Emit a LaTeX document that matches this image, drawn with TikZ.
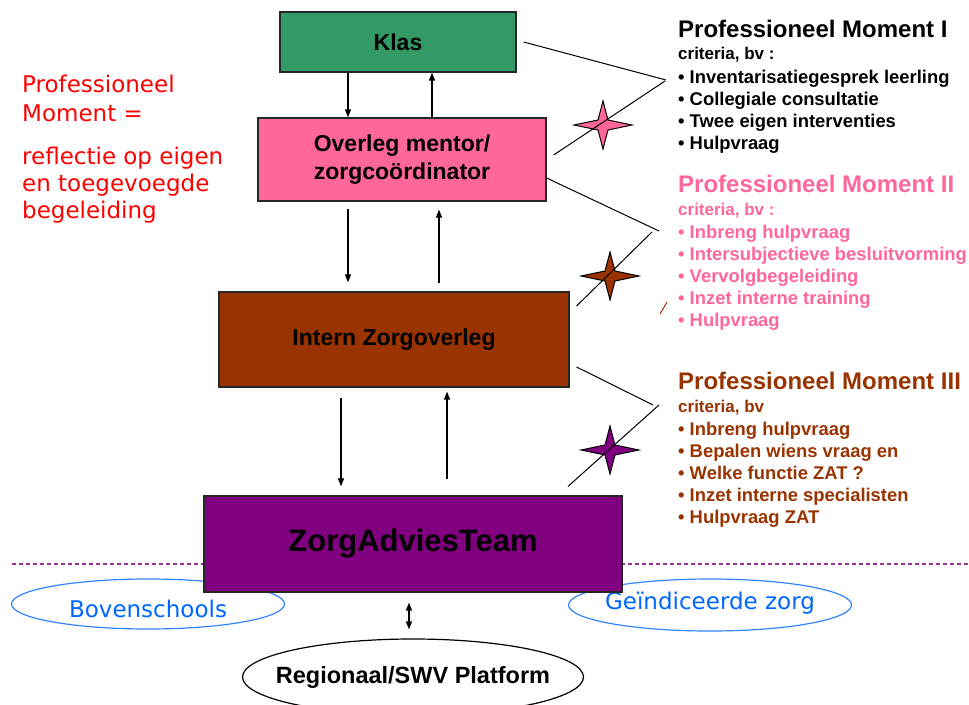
\documentclass[tikz,border=0pt]{standalone}
\usepackage{fontspec}
\setmainfont{Liberation Sans}
\newfontfamily\sidefont{DejaVu Sans}
\usepackage{xcolor}
\usetikzlibrary{positioning,arrows.meta,shapes.geometric,calc}
\definecolor{klasgreen}{RGB}{51,153,102}
\definecolor{overlegpink}{RGB}{255,102,153}
\definecolor{internbrown}{RGB}{153,51,0}
\definecolor{zatpurple}{RGB}{128,0,128}
\definecolor{dashpurple}{RGB}{153,51,153}
\definecolor{sideblue}{RGB}{51,133,255}
\definecolor{textblue}{RGB}{0,102,255}
\definecolor{defred}{RGB}{255,0,0}

\begin{document}
\begin{tikzpicture}[x=1pt, y=-1pt,
  box/.style={rectangle, draw=black!85, line width=1.2pt, inner sep=0pt, align=center,
              font=\fontsize{23}{28}\selectfont\bfseries},
  arr/.style={-{Triangle[length=8pt,width=6pt]}, line width=1.1pt},
  dbl/.style={{Triangle[length=8pt,width=6pt]}-{Triangle[length=8pt,width=6pt]}, line width=1.1pt},
  vline/.style={line width=1pt},
  sparkle/.style={draw=black, line width=1pt},
  title/.style={anchor=base west, inner sep=0pt, font=\fontsize{24}{28}\selectfont\bfseries},
  crit/.style={anchor=base west, inner sep=0pt, font=\fontsize{17}{22}\selectfont\bfseries},
  bul/.style={anchor=base west, inner sep=0pt, font=\fontsize{18.4}{22}\selectfont\bfseries},
  oval/.style={ellipse, line width=1.2pt, inner sep=0pt},
  side/.style={oval, draw=sideblue},
  sidetext/.style={inner sep=0pt, text=textblue, font=\sidefont\fontsize{23}{28}\selectfont},
  deftext/.style={anchor=north west, inner sep=0pt, align=left, text=defred}
]
  \useasboundingbox (0,0) rectangle (969,704);

  % scheidingslijn en buitenschoolse partners
  \coordinate (dl) at (12,564);
  \coordinate (dr) at (969,564);
  \draw[dashpurple, line width=1.2pt, dash pattern=on 4pt off 3pt] (dl) -- (dr);
  \node[side, minimum width=273pt, minimum height=50pt] (boven) at (148,604) {};
  \node[sidetext] (boventxt) at (148,609) {Bovenschools};
  \node[side, minimum width=283pt, minimum height=52pt] (geind) at (710,605) {};
  \node[sidetext] (geindtxt) at (710,603) {Geïndiceerde zorg};
  \node[oval, draw=black, minimum width=341pt, minimum height=76pt] (platform) at (413,677) {};
  \node[inner sep=0pt, font=\fontsize{23.5}{28}\selectfont\bfseries] (platformtxt) at (platform)
    {Regionaal/SWV Platform};

  % overlegniveaus
  \node[box, fill=klasgreen, minimum width=236pt, minimum height=60pt] (klas) at (398,42) {Klas};
  \node[box, fill=overlegpink, minimum width=288pt, minimum height=83pt] (overleg) at (402,159.5)
    {Overleg mentor/\\zorgcoördinator};
  \node[box, fill=internbrown, minimum width=350pt, minimum height=95pt] (intern) at (394,339.5)
    {Intern Zorgoverleg};
  \node[box, fill=zatpurple, minimum width=418pt, minimum height=96pt,
        font=\fontsize{31}{36}\selectfont\bfseries] (zat) at (413,544) {ZorgAdviesTeam};

  \draw[arr] ([xshift=-50pt]klas.south) -- ([xshift=-54pt]overleg.north);
  \draw[arr] ([xshift=30pt]overleg.north) -- ([xshift=34pt]klas.south);
  \draw[arr, shorten <=7pt, shorten >=9pt] ([xshift=-54pt]overleg.south) -- ([xshift=-46pt]intern.north);
  \draw[arr, shorten <=8pt, shorten >=8pt] ([xshift=45pt]intern.north) -- ([xshift=37pt]overleg.south);
  \draw[arr, shorten <=10pt, shorten >=9pt] ([xshift=-53pt]intern.south) -- ([xshift=-72pt]zat.north);
  \draw[arr, shorten <=16pt, shorten >=4pt] ([xshift=34pt]zat.north) -- ([xshift=53pt]intern.south);
  \draw[dbl, shorten <=10pt, shorten >=9pt] ([xshift=-4pt]zat.south) -- ([xshift=-4pt]platform.north);

  % sterren bij de professionele momenten
  \foreach \cx/\cy/\col in {603/125/overlegpink, 610/276/internbrown, 610/450/zatpurple}
    \draw[sparkle, fill=\col] (\cx-29,\cy) -- (\cx-5,\cy-5) -- (\cx,\cy-24) -- (\cx+5,\cy-5)
      -- (\cx+29,\cy) -- (\cx+5,\cy+5) -- (\cx,\cy+24) -- (\cx-5,\cy+5) -- cycle;

  \coordinate (v1a) at (666,80);
  \coordinate (v1b) at (665,81);
  \coordinate (v2a) at (659,231);
  \coordinate (v2b) at (652,232);
  \coordinate (v3a) at (653,405);
  \coordinate (v3b) at (659,405);
  \draw[vline] ([xshift=7pt]klas.east) -- (v1a);
  \draw[vline] (v1b) -- ([xshift=7pt,yshift=4.5pt]overleg.east);
  \draw[vline] ([yshift=-18.5pt]overleg.east) -- (v2a);
  \draw[vline] (v2b) -- ([xshift=7pt,yshift=33.5pt]intern.east);
  \draw[vline] ([xshift=7pt,yshift=-27.5pt]intern.east) -- (v3a);
  \draw[vline] (v3b) -- ([xshift=155pt,yshift=9pt]zat.north);
  \coordinate (slasha) at (660,314);
  \coordinate (slashb) at (667,302);
  \draw[internbrown, line width=1pt] (slasha) -- (slashb);

  % definitie links
  \node[deftext, font=\sidefont\fontsize{23}{29}\selectfont] (pmdef) at (22,75) {Professioneel\\Moment =};
  \node[deftext, font=\sidefont\fontsize{23}{27}\selectfont] (pmrefl) at (22,147)
    {reflectie op eigen\\en toegevoegde\\begeleiding};

  % Professioneel Moment I
  \node[title] (m1) at (678,37) {Professioneel Moment I};
  \node[crit] (m1c) at (678,59) {criteria, bv :};
  \foreach \txt [count=\i] in {Inventarisatiegesprek leerling, Collegiale consultatie,
                               Twee eigen interventies, Hulpvraag}
    \node[bul] (m1b\i) at (678,61+22*\i) {• \txt};

  % Professioneel Moment II
  \node[title, text=overlegpink] (m2) at (678,192) {Professioneel Moment II};
  \node[crit, text=overlegpink] (m2c) at (678,215) {criteria, bv :};
  \foreach \txt [count=\i] in {Inbreng hulpvraag, Intersubjectieve besluitvorming,
                               Vervolgbegeleiding, Inzet interne training, Hulpvraag}
    \node[bul, text=overlegpink] (m2b\i) at (678,216+22*\i) {• \txt};

  % Professioneel Moment III
  \node[title, text=internbrown] (m3) at (678,389) {Professioneel Moment III};
  \node[crit, text=internbrown] (m3c) at (678,412) {criteria, bv};
  \foreach \txt [count=\i] in {Inbreng hulpvraag, Bepalen wiens vraag en, Welke functie ZAT ?,
                               Inzet interne specialisten, Hulpvraag ZAT}
    \node[bul, text=internbrown] (m3b\i) at (678,413+22*\i) {• \txt};
\end{tikzpicture}
\end{document}
